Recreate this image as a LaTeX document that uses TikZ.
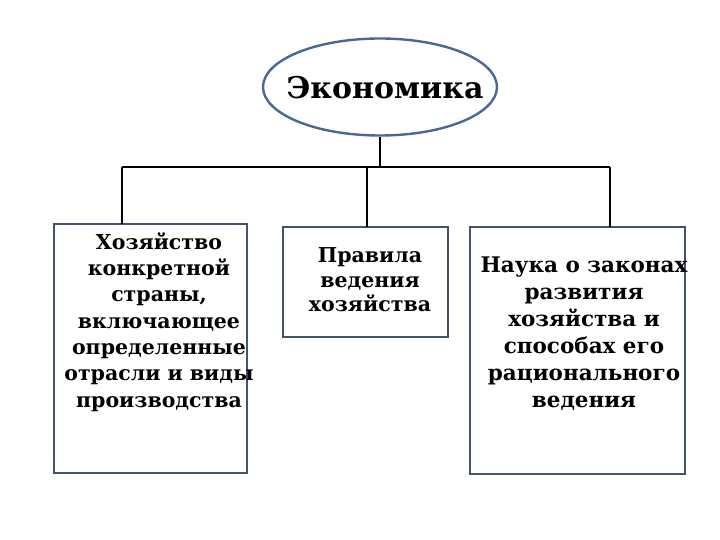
\documentclass[tikz,border=0pt]{standalone}
\usepackage{fontspec}
\setmainfont{DejaVu Serif}
\usetikzlibrary{shapes.geometric}
\definecolor{boxc}{HTML}{44536B}
\definecolor{ellc}{HTML}{4A6890}
\tikzset{
  box/.style={draw=boxc, line width=2.6pt, fill=white},
  txt/.style={align=center, font=\bfseries\fontsize{20.5}{26.3}\selectfont, inner sep=0pt},
  conn/.style={draw=black, line width=2.6pt}
}
\begin{document}
\begin{tikzpicture}[x=1pt,y=-1pt]
\useasboundingbox (0,0) rectangle (720,540);
\node[ellipse, draw=ellc, line width=2.4pt, minimum width=234pt, minimum height=97pt, inner sep=0pt] (eco) at (380,87) {};
\node[font=\bfseries\fontsize{30}{34}\selectfont] (ecot) at (385,88) {Экономика};
\coordinate (hub) at (380,167);
\coordinate (hl) at (122,167);
\coordinate (hm) at (367,167);
\coordinate (hr) at (610,167);
\draw[box] (54,224) rectangle (247,473);
\draw[box] (283,227) rectangle (448,337);
\draw[box] (470,227) rectangle (685,474);
\coordinate (bl) at (122,224);
\coordinate (bm) at (367,227);
\coordinate (br) at (610,227);
\draw[conn] (eco.south) -- (hub);
\draw[conn] (hl) -- (hr);
\draw[conn] (hl) -- (bl);
\draw[conn] (hm) -- (bm);
\draw[conn] (hr) -- (br);
\node[txt] (tl) at (159,322) {Хозяйство\\конкретной\\страны,\\включающее\\определенные\\отрасли и виды\\производства};
\node[txt, font=\bfseries\fontsize{20.5}{24.5}\selectfont] (tm) at (370,280) {Правила\\ведения\\хозяйства};
\node[txt, font=\bfseries\fontsize{21.5}{27}\selectfont] (tr) at (584,334) {Наука о законах\\развития\\хозяйства и\\способах его\\рационального\\ведения};
\end{tikzpicture}
\end{document}
